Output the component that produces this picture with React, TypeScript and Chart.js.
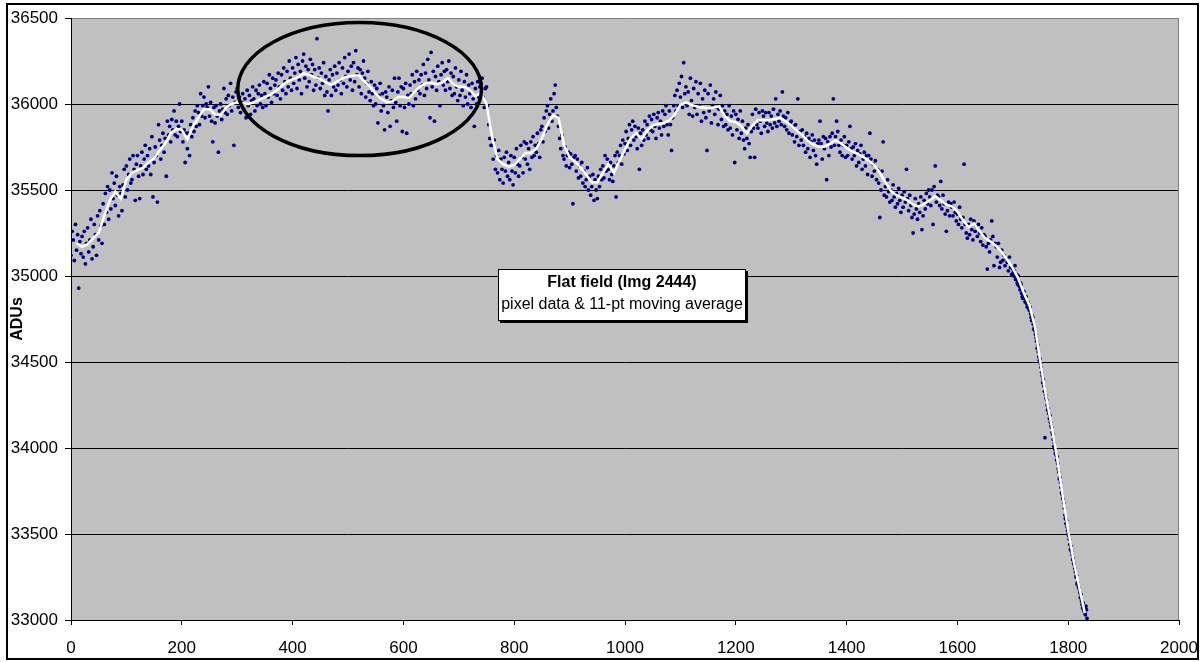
import React, { useEffect, useRef } from 'react';
import { Chart, registerables } from 'chart.js';

Chart.register(...registerables);

// ---- data -------------------------------------------------------------
const columnStep = 2; // pixel column spacing of the sampled data
const xMin = 0, xMax = 2000, xStep = 200;
const yMin = 33000, yMax = 36500, yStep = 500;

const aduA = [
  35120, 35260, 35210, 35090, 35300, 35150, 35240, 34930, 35200, 35130,
  35230, 35110, 35260, 35070, 35190, 35280, 35140, 35210, 35330, 35100,
  35170, 35300, 35240, 35120, 35350, 35210, 35380, 35290, 35190, 35420,
  35300, 35480, 35370, 35520, 35330, 35500, 35390, 35600, 35450, 35540,
  35410, 35580, 35470, 35350, 35520, 35480, 35380, 35530, 35620, 35460,
  35640, 35500, 35590, 35680, 35540, 35560, 35700, 35620, 35440, 35650,
  35700, 35580, 35450, 35640, 35720, 35590, 35680, 35760, 35620, 35700,
  35640, 35740, 35590, 35810, 35460, 35660, 35750, 35700, 35430, 35880,
  35790, 35680, 35760, 35830, 35720, 35800, 35580, 35900, 35820, 35870,
  35780, 35910, 35850, 35960, 35820, 35900, 35810, 35870, 36000, 35840,
  35900, 35780, 35850, 35660, 35830, 35740, 35830, 35700, 35880, 35810,
  35920, 35840, 35960, 35870, 35990, 35950, 35880, 36060, 35930, 35990,
  36040, 35920, 36000, 35980, 36100, 35930, 36010, 35900, 35780, 35980,
  35890, 35990, 35930, 35720, 35960, 36000, 35910, 35970, 36090, 35950,
  36030, 35940, 36050, 35990, 36120, 35960, 36040, 35760, 36010, 36070,
  36090, 35980, 36040, 35950, 36010, 36060, 35970, 36030, 35920, 36080,
  35990, 36050, 35940, 36020, 36100, 36030, 35960, 36080, 35990, 36060,
  36110, 36000, 36050, 35980, 36130, 36060, 35990, 36120, 36040, 36170,
  36090, 36010, 36150, 36060, 36110, 36140, 36050, 36180, 36100, 36030,
  36170, 36080, 36210, 36130, 36060, 36190, 36100, 36250, 36150, 36080,
];

const aduB = [
  36210, 36120, 36180, 36270, 36090, 36230, 36140, 36190, 36060, 36250,
  36290, 36150, 36220, 36100, 36200, 36130, 36260, 36170, 36230, 36080,
  36200, 36110, 36380, 36150, 36210, 36090, 36180, 36120, 36240, 36050,
  36160, 36070, 35960, 36140, 36200, 36050, 36170, 36100, 36220, 36080,
  36180, 36110, 36240, 36140, 36060, 36210, 36120, 36270, 36160, 36100,
  36190, 36290, 36140, 36220, 36080, 36240, 36130, 36310, 36170, 36210,
  36100, 36200, 36060, 36180, 36250, 36150, 36040, 36120, 36190, 36070,
  36020, 36130, 36060, 35990, 36110, 36000, 36090, 35890, 36050, 36120,
  35960, 36060, 35990, 35850, 36070, 36040, 35950, 36100, 35870, 36020,
  36080, 35980, 36150, 36010, 35900, 36070, 36150, 35990, 36100, 35840,
  36090, 35980, 36120, 35830, 36050, 36000, 36110, 36060, 36170, 35990,
  36130, 36030, 36190, 36080, 36140, 36060, 36170, 36110, 36230, 36050,
  36180, 36090, 36260, 36140, 35920, 36300, 36100, 36190, 35900, 36160,
  36080, 36220, 36130, 35990, 36170, 36240, 36110, 36190, 36080, 36200,
  36130, 36250, 36090, 36180, 36050, 36160, 36060, 36210, 36100, 36020,
  36140, 36050, 36190, 36080, 35990, 36130, 36040, 36170, 36000, 36110,
  36060, 35980, 36120, 36030, 35870, 36090, 36000, 36130, 36040, 36100,
  36120, 36150, 36040, 35980, 36090, 36100, 35990, 35880, 35800, 35760,
  35760, 35680, 35790, 35620, 35700, 35600, 35730, 35560, 35680, 35620,
  35540, 35690, 35610, 35720, 35580, 35660, 35560, 35700, 35610, 35530,
];

const aduC = [
  35690, 35600, 35740, 35650, 35580, 35640, 35760, 35690, 35600, 35780,
  35680, 35770, 35650, 35740, 35620, 35780, 35690, 35810, 35700, 35760,
  35720, 35830, 35770, 35690, 35850, 35870, 35780, 35920, 35840, 35960,
  35990, 35860, 35940, 36030, 35900, 35960, 36060, 36110, 35980, 35930,
  35870, 35800, 35740, 35820, 35700, 35680, 35750, 35640, 35700, 35720,
  35630, 35710, 35650, 35420, 35690, 35700, 35610, 35680, 35570, 35640,
  35580, 35660, 35540, 35610, 35520, 35560, 35630, 35500, 35580, 35470,
  35520, 35590, 35440, 35560, 35500, 35450, 35580, 35520, 35620, 35560,
  35640, 35570, 35700, 35610, 35680, 35620, 35560, 35660, 35590, 35550,
  35640, 35700, 35460, 35720, 35660, 35700, 35760, 35650, 35790, 35710,
  35770, 35840, 35730, 35800, 35880, 35760, 35850, 35900, 35790, 35870,
  35810, 35740, 35860, 35620, 35830, 35760, 35850, 35790, 35900, 35820,
  35880, 35800, 35930, 35850, 35910, 35840, 35940, 35870, 35800, 35920,
  35950, 35860, 35900, 35820, 35960, 35870, 35940, 35990, 35880, 35820,
  35960, 35880, 35730, 35920, 35990, 36050, 35960, 36080, 35990, 36120,
  36040, 36160, 35980, 36240, 36060, 36100, 35990, 36070, 35940, 36150,
  36020, 35930, 36090, 35980, 36130, 35940, 36060, 35990, 36120, 35900,
  36030, 35950, 36080, 35920, 35730, 36060, 35960, 36110, 35890, 35990,
  36030, 35940, 36070, 35980, 35880, 35970, 36050, 35910, 35990, 35870,
  35960, 35880, 35940, 35850, 35990, 35860, 35930, 35820, 35960, 35660,
];

const aduD = [
  35940, 35850, 35910, 35800, 35960, 35830, 35900, 35790, 35740, 35860,
  35800, 35880, 35770, 35690, 35840, 35940, 35860, 35690, 35970, 35880,
  35860, 35950, 35900, 35830, 35960, 35930, 35870, 35950, 35890, 35840,
  35950, 35880, 35930, 35860, 35970, 35890, 36030, 35870, 35940, 35900,
  35960, 35880, 36070, 35930, 35870, 35920, 35850, 35950, 35830, 35890,
  35900, 35820, 35870, 35780, 35880, 35810, 36030, 35760, 35840, 35790,
  35850, 35760, 35810, 35720, 35830, 35740, 35800, 35690, 35780, 35820,
  35730, 35790, 35700, 35650, 35770, 35790, 35900, 35770, 35680, 35810,
  35740, 35800, 35560, 35780, 35700, 35810, 35750, 35830, 36030, 35760,
  35810, 35900, 35840, 35760, 35720, 35790, 35700, 35760, 35810, 35690,
  35760, 35700, 35780, 35870, 35740, 35680, 35750, 35700, 35770, 35640,
  35730, 35660, 35710, 35760, 35620, 35680, 35720, 35640, 35700, 35590,
  35700, 35830, 35680, 35580, 35650, 35610, 35670, 35560, 35620, 35540,
  35340, 35500, 35610, 35780, 35470, 35520, 35460, 35560, 35490, 35430,
  35500, 35440, 35530, 35460, 35400, 35480, 35420, 35510, 35440, 35370,
  35470, 35400, 35490, 35430, 35620, 35450, 35380, 35470, 35410, 35340,
  35250, 35360, 35450, 35390, 35330, 35420, 35370, 35460, 35270, 35350,
  35440, 35390, 35480, 35420, 35500, 35460, 35410, 35500, 35300, 35520,
  35640, 35430, 35470, 35460, 35410, 35550, 35390, 35470, 35420, 35360,
  35260, 35380, 35430, 35350, 35420, 35400, 35350, 35430, 35370, 35320,
];

const aduE = [
  35360, 35300, 35400, 35330, 35280, 35340, 35650, 35300, 35250, 35220,
  35300, 35240, 35330, 35270, 35210, 35320, 35260, 35290, 35230, 35300,
  35250, 35200, 35280, 35180, 35240, 35230, 35170, 35040, 35190, 35140,
  35210, 35320, 35230, 35060, 35190, 35170, 35110, 35190, 35050, 35080,
  35150, 35090, 35120, 35060, 35100, 35080, 35030, 35110, 35050, 35010,
  35040, 35000, 35060, 34990, 34960, 35000, 34940, 34960, 34900, 34870,
  34910, 34850, 34880, 34820, 34840, 34800, 34780, 34740, 34760, 34690,
  34680, 34640, 34580, 34560, 34510, 34490, 34440, 34380, 34360, 34060,
  34290, 34250, 34230, 34170, 34150, 34120, 34080, 34010, 33990, 33960,
  33950, 33880, 33820, 33800, 33740, 33710, 33680, 33610, 33560, 33540,
  33500, 33470, 33410, 33400, 33350, 33330, 33300, 33250, 33210, 33200,
  33180, 33130, 33110, 33070, 33060, 33040, 33080, 33010,
];

// odd pixel columns of the steep fall-off (x = 1701, 1703, ...)
const steepStart = 1701;
const aduSteepOdd = [
  35020, 35030, 34980, 35010, 34950, 34970, 34920, 34950, 34880, 34890,
  34870, 34880, 34840, 34850, 34810, 34820, 34760, 34770, 34720, 34700,
  34660, 34620, 34600, 34530, 34520, 34470, 34420, 34400, 34330, 34310,
  34280, 34220, 34200, 34190, 34130, 34090, 34050, 34030, 33970, 33930,
  33910, 33860, 33830, 33770, 33730, 33700, 33650, 33590, 33580, 33520,
  33490, 33440, 33430, 33380, 33360, 33320, 33280, 33260, 33220, 33190,
  33160, 33150, 33090, 33100, 33050, 33030, 33060,
];

// 11-pt moving average, read every 10 pixels starting at x = 10
const avgStart = 10;
const avgStep = 10;
const movingAvg = [
  35190, 35170, 35185, 35220, 35250, 35350, 35440, 35490, 35450,
  35560, 35600, 35615, 35630, 35660, 35685, 35730, 35770, 35830, 35855,
  35850, 35795, 35870, 35920, 35970, 35970, 35940, 35935, 35980, 36000,
  36010, 36005, 36000, 36010, 36025, 36040, 36055, 36075, 36105, 36130,
  36145, 36155, 36178, 36170, 36155, 36145, 36125, 36110, 36130, 36150,
  36160, 36165, 36165, 36130, 36100, 36060, 36030, 36010, 36015, 36040,
  36040, 36035, 36070, 36100, 36120, 36125, 36115, 36125, 36150, 36115,
  36100, 36100, 36080, 36045, 36065, 36000, 35810, 35680, 35650, 35635,
  35645, 35680, 35715, 35715, 35740, 35800, 35880, 35935, 35920, 35760,
  35690, 35665, 35630, 35590, 35545, 35545, 35600, 35650, 35600, 35670,
  35735, 35800, 35830, 35795, 35845, 35875, 35885, 35890, 35905, 35940,
  35995, 36010, 35995, 35985, 35980, 35975, 35980, 35985, 35930, 35900,
  35895, 35870, 35830, 35875, 35907, 35905, 35907, 35912, 35919, 35900,
  35875, 35845, 35820, 35785, 35765, 35752, 35752, 35770, 35790, 35770,
  35745, 35725, 35710, 35692, 35670, 35645, 35600, 35545, 35495, 35470,
  35455, 35440, 35415, 35405, 35418, 35440, 35465, 35440, 35415, 35405,
  35375, 35325, 35285, 35305, 35260, 35220, 35200, 35175, 35140, 35093,
  35046, 34985, 34900, 34830, 34704, 34495, 34300, 34130, 33940, 33725,
  33520, 33340, 33190, 33040,
];

const yAxisTitle = 'ADUs';
const noteTitle = 'Flat field (Img 2444)';
const noteText = 'pixel data & 11-pt moving average';
// annotation anchors in data units
const noteAnchor = { x: 995, y: 34890 };
const ringAnchor = { x: 521, y: 36087, rx: 220, ry: 387 };

const FONT = "Arial, 'Liberation Sans', Helvetica, sans-serif";

const aduValues = [...aduA, ...aduB, ...aduC, ...aduD, ...aduE];

const decorPlugin = {
  id: 'decor',
  beforeDraw(chart: any) {
    const { ctx, chartArea } = chart;
    ctx.save();
    ctx.fillStyle = '#ffffff';
    ctx.fillRect(0, 0, chart.width, chart.height);
    ctx.fillStyle = '#C0C0C0';
    ctx.fillRect(chartArea.left, chartArea.top, chartArea.right - chartArea.left, chartArea.bottom - chartArea.top);
    ctx.restore();
  },
  afterDraw(chart: any) {
    const { ctx, chartArea } = chart;
    const xs = chart.scales.x;
    const ys = chart.scales.y;
    ctx.save();
    // right plot border
    ctx.strokeStyle = '#808080';
    ctx.lineWidth = 1;
    ctx.beginPath();
    const rx = Math.round(chartArea.right) - 0.5;
    ctx.moveTo(rx, chartArea.top);
    ctx.lineTo(rx, chartArea.bottom);
    ctx.stroke();

    // ellipse
    const ecx = xs.getPixelForValue(ringAnchor.x);
    const ecy = ys.getPixelForValue(ringAnchor.y);
    const erx = Math.abs(xs.getPixelForValue(ringAnchor.x + ringAnchor.rx) - ecx);
    const ery = Math.abs(ys.getPixelForValue(ringAnchor.y + ringAnchor.ry) - ecy);
    ctx.strokeStyle = '#000';
    ctx.lineWidth = 3.5;
    ctx.beginPath();
    ctx.ellipse(ecx, ecy, erx, ery, 0, 0, Math.PI * 2);
    ctx.stroke();

    // note box
    const ncx = xs.getPixelForValue(noteAnchor.x);
    const ncy = ys.getPixelForValue(noteAnchor.y);
    const w = 248, h = 52;
    const bx = Math.round(ncx - w / 2);
    const by = Math.round(ncy - h / 2);
    ctx.fillStyle = '#000';
    ctx.fillRect(bx + 2, by + 2, w, h);
    ctx.fillStyle = '#fff';
    ctx.fillRect(bx, by, w, h);
    ctx.strokeStyle = '#000';
    ctx.lineWidth = 1;
    ctx.strokeRect(bx + 0.5, by + 0.5, w - 1, h - 1);
    ctx.fillStyle = '#000';
    ctx.textAlign = 'center';
    ctx.textBaseline = 'middle';
    ctx.font = `bold 16px ${FONT}`;
    ctx.fillText(noteTitle, bx + w / 2, by + 14);
    ctx.font = `16px ${FONT}`;
    ctx.fillText(noteText, bx + w / 2, by + 36);

    // y axis title
    ctx.save();
    ctx.translate(18, (chartArea.top + chartArea.bottom) / 2);
    ctx.rotate(-Math.PI / 2);
    ctx.font = `bold 16px ${FONT}`;
    ctx.fillText(yAxisTitle, 0, 0);
    ctx.restore();

    // outer chart border
    ctx.strokeStyle = '#000';
    ctx.lineWidth = 2;
    ctx.strokeRect(7, 4, 1191, 655);
    ctx.restore();
  },
};

export default function App() {
  const ref = useRef<HTMLCanvasElement>(null);

  useEffect(() => {
    const canvas = ref.current;
    if (!canvas) return;
    const scatterPoints = aduValues
      .map((v, i) => ({ x: i * columnStep, y: v }))
      .concat(aduSteepOdd.map((v, i) => ({ x: steepStart + i * columnStep, y: v })));
    const avgPoints = movingAvg.map((v, i) => ({ x: avgStart + i * avgStep, y: v }));

    const chart = new Chart(canvas, {
      type: 'scatter',
      data: {
        datasets: [
          {
            label: 'moving average',
            data: avgPoints,
            showLine: true,
            borderColor: '#ffffff',
            borderWidth: 2.5,
            pointRadius: 0,
            pointHoverRadius: 0,
            tension: 0,
            order: 0,
          } as any,
          {
            label: 'pixel data',
            data: scatterPoints,
            showLine: false,
            pointRadius: 1.9,
            pointHoverRadius: 1.9,
            pointBorderWidth: 0,
            pointBackgroundColor: '#000080',
            backgroundColor: '#000080',
            borderColor: '#000080',
            order: 1,
          } as any,
        ],
      },
      options: {
        animation: false,
        responsive: false,
        devicePixelRatio: 1,
        events: [],
        layout: { padding: { left: 0, top: 18, right: 24, bottom: 0 } },
        plugins: { legend: { display: false }, tooltip: { enabled: false }, title: { display: false } },
        scales: {
          x: {
            type: 'linear',
            min: xMin,
            max: xMax,
            afterFit: (s: any) => { s.height = 42; s.paddingLeft = 0; s.paddingRight = 0; },
            ticks: {
              stepSize: xStep,
              color: '#000',
              font: { family: FONT, size: 17 },
              padding: 13,
              maxRotation: 0,
              autoSkip: false,
              callback: (v: any) => String(v),
            },
            grid: { drawOnChartArea: false, drawTicks: true, tickLength: 5, tickColor: '#000', color: '#000' },
            border: { color: '#000', width: 1 },
          },
          y: {
            type: 'linear',
            min: yMin,
            max: yMax,
            afterFit: (s: any) => { s.width = 71; s.paddingTop = 0; s.paddingBottom = 0; },
            ticks: {
              stepSize: yStep,
              color: '#000',
              font: { family: FONT, size: 17 },
              padding: 7,
              callback: (v: any) => String(v),
            },
            grid: {
              color: (c: any) => (c.tick && c.tick.value === yMax ? '#808080' : '#000'),
              lineWidth: 1,
              drawTicks: true,
              tickLength: 6,
              tickColor: '#000',
            },
            border: { color: '#000', width: 1 },
          },
        },
      } as any,
      plugins: [decorPlugin],
    });
    return () => chart.destroy();
  }, []);

  return (
    <div style={{ position: 'fixed', left: 0, top: 0, width: 1203, height: 662, background: '#fff' }}>
      <canvas ref={ref} width={1203} height={662} style={{ display: 'block', width: 1203, height: 662 }} />
    </div>
  );
}
